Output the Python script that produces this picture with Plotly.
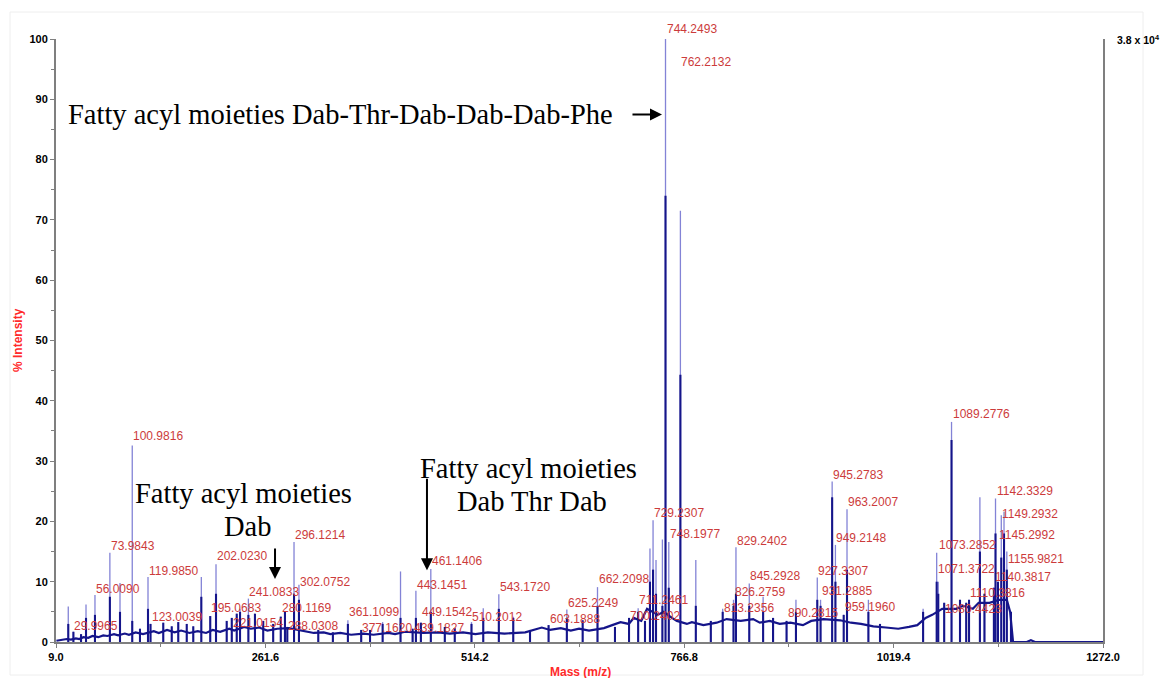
import plotly.graph_objects as go

# ---------------- data ----------------
# peak positions (m/z), apex intensity (%), and dark-core intensity (%)
peak_mz = [23.8, 29.9965, 39.2, 45.2, 56.0090, 73.9843, 86.2, 100.9816, 110.3, 119.9850,
           123.0039, 138.4, 148.6, 156.5, 166.7, 174.6, 184.3, 195.0683, 202.0230, 214.9,
           221.0154, 227.0, 231.0, 241.0833, 249.0, 259.0, 271.0, 280.1169, 285.2, 288.0308,
           296.1214, 302.0752, 325.4, 343.0, 361.1099, 377.1620, 387.8, 403.0, 424.6, 439.1827,
           443.1451, 449.1542, 461.1406, 478.0, 490.0, 510.2012, 524.4, 543.1720, 560.6, 580.8,
           603.1888, 625.2249, 644.3, 662.2098, 683.3, 700.2402, 711.2461, 719.5, 725.5, 729.2307,
           732.8, 740.5, 744.2493, 748.1977, 762.2132, 780.8, 798.9, 813.2356, 826.2759, 829.2402,
           845.2928, 862.0, 874.0, 890.2815, 901.6, 927.3307, 931.2885, 945.2783, 949.2148, 959.1960,
           963.2007, 989.0, 1003.0, 1055.0, 1071.3722, 1073.2852, 1080.4423, 1089.2776, 1099.5, 1107.0,
           1110.3816, 1123.5, 1129.0, 1140.3817, 1142.3329, 1145.2992, 1149.2932, 1152.6, 1155.9821, 1161.0]
peak_int = [5.9, 1.7, 1.3, 6.2, 7.8, 14.8, 9.8, 32.6, 2.2, 10.8,
            3.0, 3.2, 2.6, 3.3, 3.0, 2.6, 10.8, 4.3, 12.9, 3.5,
            4.0, 4.7, 5.5, 7.2, 4.7, 3.5, 3.0, 4.2, 5.0, 2.5,
            16.6, 9.5, 2.0, 1.6, 3.6, 2.0, 2.0, 3.3, 11.7, 2.2,
            8.5, 3.2, 12.1, 2.5, 2.3, 3.3, 5.6, 7.9, 4.2, 2.0,
            2.8, 5.4, 3.6, 9.1, 2.5, 4.0, 5.6, 3.5, 15.5, 20.2,
            13.6, 17.0, 100.0, 16.6, 71.5, 13.6, 3.5, 5.5, 7.0, 15.7,
            9.7, 7.5, 4.0, 3.5, 7.0, 10.7, 7.0, 26.6, 16.1, 4.5,
            22.0, 7.0, 3.0, 5.5, 14.8, 10.0, 6.5, 36.5, 7.0, 6.5,
            7.0, 24.0, 8.0, 9.0, 23.8, 10.0, 21.0, 21.6, 15.0, 5.0]
peak_core = [3.0, 1.7, 1.3, 4.0, 4.5, 7.5, 5.0, 3.5, 2.2, 5.5,
             3.0, 3.2, 2.6, 3.3, 3.0, 2.6, 7.5, 4.3, 8.0, 3.5,
             4.0, 4.7, 5.0, 4.5, 4.7, 3.5, 3.0, 4.2, 5.0, 2.5,
             8.0, 7.0, 2.0, 1.6, 3.0, 2.0, 2.0, 3.0, 4.0, 2.2,
             4.0, 3.2, 5.0, 2.5, 2.3, 3.0, 4.0, 5.5, 4.0, 2.0,
             2.8, 4.0, 3.6, 6.0, 2.5, 4.0, 5.0, 3.5, 10.0, 12.0,
             8.0, 6.0, 74.0, 9.0, 44.3, 6.0, 3.5, 5.0, 6.0, 8.0,
             6.0, 5.0, 4.0, 3.5, 5.0, 7.0, 6.0, 24.0, 10.0, 4.5,
             12.0, 5.0, 3.0, 5.0, 10.0, 8.0, 6.5, 33.5, 7.0, 6.5,
             7.0, 15.0, 8.0, 9.0, 18.0, 10.0, 14.0, 18.0, 12.0, 5.0]

# baseline (noise floor) of the profile spectrum
base_mz = [9.5, 14, 18, 22, 27, 33, 37, 42, 48, 53, 60, 66, 71, 79, 84, 92, 97, 105, 114, 127,
           133, 143, 152, 160, 170, 180, 190, 198, 207, 218, 224, 236, 244, 254, 264, 276, 290, 300,
           310, 320, 332, 340, 352, 365, 380, 392, 410, 418, 430, 452, 470, 484, 500, 515, 530, 550,
           575, 595, 605, 618, 630, 640, 652, 670, 680, 690, 700, 706, 715, 722, 735, 742, 752, 758,
           770, 776, 790, 806, 818, 835, 850, 858, 870, 882, 895, 910, 920, 935, 955, 968, 980, 995,
           1010, 1025, 1038, 1048, 1058, 1066, 1078, 1095, 1103, 1115, 1122, 1135, 1147, 1156, 1160,
           1162, 1163.5, 1180, 1185, 1190, 1272]
base_int = [0.2, 0.3, 0.3, 0.5, 0.4, 0.6, 0.5, 0.8, 0.7, 1.0, 0.8, 1.1, 1.0, 1.3, 1.1, 1.4, 1.2, 1.6, 1.3, 1.8,
            1.5, 2.0, 1.6, 1.9, 1.5, 1.8, 1.5, 2.0, 1.7, 2.2, 1.9, 2.5, 2.2, 2.4, 1.9, 2.2, 2.3, 2.0,
            1.8, 1.5, 1.6, 1.3, 1.5, 1.2, 1.4, 1.2, 1.5, 1.3, 1.7, 1.5, 1.6, 1.4, 1.6, 1.3, 1.6, 1.4,
            1.6, 2.4, 2.0, 2.3, 1.9, 2.2, 1.9, 2.3, 2.8, 3.3, 3.0, 4.0, 3.5, 5.5, 4.5, 5.0, 4.0, 3.5,
            3.0, 3.3, 2.8, 3.2, 3.8, 3.5, 3.8, 3.2, 3.5, 3.0, 3.2, 2.8, 3.5, 3.8, 3.6, 3.2, 3.0, 2.6,
            2.4, 2.2, 2.5, 2.8, 4.0, 4.5, 5.5, 5.5, 6.0, 5.5, 6.5, 6.5, 7.0, 7.0, 5.0,
            2.0, 0.0, 0.0, 0.3, 0.0, 0.0]

# labelled peaks: label text and label height (%)
label_txt = ["744.2493", "762.2132", "100.9816", "73.9843", "56.0090", "29.9965", "119.9850",
             "123.0039", "195.0683", "202.0230", "221.0154", "241.0833", "280.1169", "288.0308",
             "296.1214", "302.0752", "361.1099", "377.1620", "439.1827", "443.1451", "449.1542",
             "461.1406", "510.2012", "543.1720", "603.1888", "625.2249", "662.2098", "700.2402",
             "711.2461", "729.2307", "748.1977", "813.2356", "826.2759", "829.2402", "845.2928",
             "890.2815", "927.3307", "931.2885", "945.2783", "949.2148", "959.1960", "963.2007",
             "1071.3722", "1073.2852", "1080.4423", "1089.2776", "1110.3816", "1140.3817",
             "1142.3329", "1145.2992", "1149.2932", "1155.9821"]
label_y = [100.0, 96.2, 34.2, 15.9, 8.8, 2.65, 11.8,
           4.1, 5.6, 14.3, 3.2, 8.3, 5.6, 2.65,
           17.7, 10.0, 5.0, 2.3, 2.3, 9.5, 5.0,
           13.4, 4.1, 9.1, 3.8, 6.5, 10.4, 4.3,
           7.0, 21.4, 17.9, 5.6, 8.3, 16.7, 10.9,
           4.8, 11.8, 8.5, 27.7, 17.2, 5.8, 23.2,
           12.1, 16.1, 5.4, 37.8, 8.2, 10.7,
           25.1, 17.7, 21.3, 13.8]

x_ticks = [9.0, 261.6, 514.2, 766.8, 1019.4, 1272.0]
y_ticks = [0, 10, 20, 30, 40, 50, 60, 70, 80, 90, 100]

# ---------------- figure ----------------
LIGHT = "#8383d6"
NAVY = "#15158a"
LABEL_RED = "#cc3b3b"
AX_RED = "#ff2a2a"

def segs(xs, ys):
    sx, sy = [], []
    for xv, yv in zip(xs, ys):
        sx += [xv, xv, None]
        sy += [0, yv, None]
    return sx, sy

fig = go.Figure()
px_, py_ = segs(peak_mz, peak_int)
fig.add_trace(go.Scatter(x=px_, y=py_, mode="lines", line=dict(color=LIGHT, width=1.3),
                         hoverinfo="skip", showlegend=False))
cx_, cy_ = segs(peak_mz, peak_core)
fig.add_trace(go.Scatter(x=cx_, y=cy_, mode="lines", line=dict(color=NAVY, width=2.1),
                         hoverinfo="skip", showlegend=False))
fig.add_trace(go.Scatter(x=base_mz, y=base_int, mode="lines", line=dict(color=NAVY, width=2.2),
                         hoverinfo="skip", showlegend=False))

annotations = []
for t, yv in zip(label_txt, label_y):
    top = t == "744.2493"
    annotations.append(dict(x=float(t), y=yv, xref="x", yref="y", text=t, showarrow=False,
                            xanchor="left", yanchor="bottom" if top else "middle",
                            xshift=-1, yshift=1 if top else 0,
                            font=dict(family="Liberation Sans, Arial", size=12, color=LABEL_RED)))

serif = "Liberation Serif, Times New Roman, serif"
def txt(x, y, s, anchor="center"):
    # x, y given in paper fractions of the plot area
    return dict(x=x, y=y, xref="paper", yref="paper", text=s, showarrow=False,
                xanchor=anchor, yanchor="middle", font=dict(family=serif, size=28.5, color="black"))

W, H, L, T = 1047.0, 603.0, 56.0, 39.0
def pxx(p):
    return (p - L) / W
def pxy(p):
    return 1 - (p - T) / H

annotations += [
    txt(pxx(66), pxy(114), "Fatty acyl moieties Dab-Thr-Dab-Dab-Dab-Phe", "left"),
    txt(pxx(243.5), pxy(493), "Fatty acyl moieties"),
    txt(pxx(247.5), pxy(526), "Dab"),
    txt(pxx(528), pxy(468), "Fatty acyl moieties"),
    txt(pxx(532), pxy(501), "Dab Thr Dab"),
    # arrows
    dict(x=740.0, y=87.5, ax=-31, ay=0, xref="x", yref="y", axref="pixel", ayref="pixel",
         showarrow=True, arrowhead=2, arrowsize=1.2, arrowwidth=2, arrowcolor="black", text=""),
    dict(x=273.2, y=10.45, ax=0, ay=-32, xref="x", yref="y", axref="pixel", ayref="pixel",
         showarrow=True, arrowhead=2, arrowsize=1.2, arrowwidth=2, arrowcolor="black", text=""),
    dict(x=456.5, y=11.9, ax=0, ay=-93, xref="x", yref="y", axref="pixel", ayref="pixel",
         showarrow=True, arrowhead=2, arrowsize=1.2, arrowwidth=2, arrowcolor="black", text=""),
    dict(x=pxx(1115), y=1.0, xref="paper", yref="paper", text="<b>3.8 x 10<sup>4</sup></b>",
         showarrow=False, xanchor="left", yanchor="middle",
         font=dict(family="Liberation Sans, Arial", size=10.5, color="black")),
    # axis titles
    dict(x=pxx(580), y=pxy(672), xref="paper", yref="paper", text="<b>Mass (m/z)</b>",
         showarrow=False, xanchor="center", yanchor="middle",
         font=dict(family="Liberation Sans, Arial", size=12, color=AX_RED)),
    dict(x=pxx(18), y=pxy(340), xref="paper", yref="paper", text="<b>% Intensity</b>",
         showarrow=False, xanchor="center", yanchor="middle", textangle=-90,
         font=dict(family="Liberation Sans, Arial", size=12, color=AX_RED)),
]

axis_font = dict(family="Liberation Sans, Arial", size=11, color="black")
fig.update_layout(
    width=1162, height=678,
    margin=dict(l=56, r=59, t=39, b=36),
    paper_bgcolor="white", plot_bgcolor="white",
    annotations=annotations,
    shapes=[dict(type="rect", xref="paper", yref="paper", x0=pxx(10), x1=pxx(1143),
                 y0=pxy(675), y1=pxy(12), line=dict(color="#eeeeee", width=1))],
    xaxis=dict(range=[9.0, 1272.0], tickmode="array", tickvals=x_ticks,
               ticktext=["<b>%.1f</b>" % v for v in x_ticks],
               showgrid=False, zeroline=False, showline=True, linecolor="#7f7f7f", linewidth=2,
               ticks="outside", ticklen=4, tickcolor="#7f7f7f", tickfont=axis_font,
               minor=dict(tickvals=[(a + b) / 2 for a, b in zip(x_ticks[:-1], x_ticks[1:])],
                          ticks="outside", ticklen=3, tickcolor="#7f7f7f")),
    yaxis=dict(range=[0, 100], tickmode="array", tickvals=y_ticks,
               ticktext=["<b>%d</b>" % v for v in y_ticks],
               showgrid=False, zeroline=False, showline=True, linecolor="#7f7f7f", linewidth=2,
               mirror=True,
               ticks="outside", ticklen=4, tickcolor="#7f7f7f", tickfont=axis_font,
               minor=dict(dtick=5, tick0=0, ticks="outside", ticklen=3, tickcolor="#7f7f7f")),
)

fig.write_html("out.html")
